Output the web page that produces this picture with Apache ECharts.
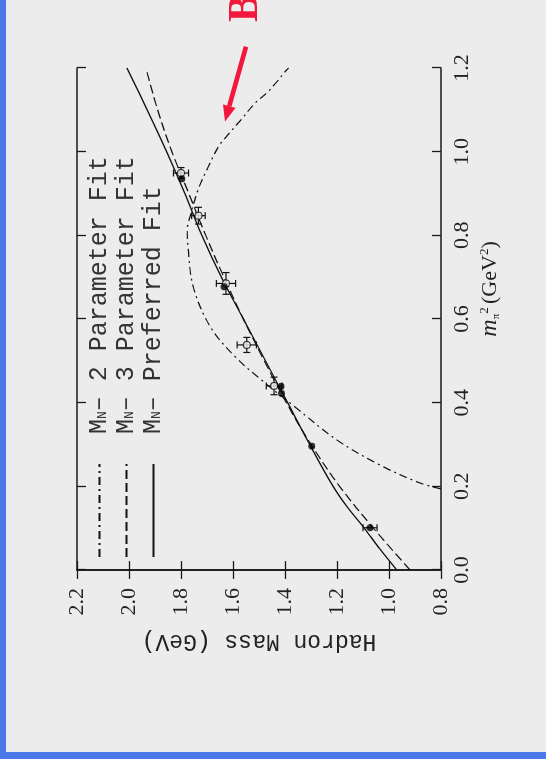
<!DOCTYPE html>
<html><head><meta charset="utf-8">
<script src="https://cdn.jsdelivr.net/npm/echarts@6/dist/echarts.min.js"></script>
<style>
html,body{margin:0;padding:0;width:546px;height:759px;overflow:hidden;background:#ececec;}
#blueL{position:absolute;left:0;top:0;width:6px;height:759px;background:#4a78e6;}
#blueB{position:absolute;left:0;top:752px;width:546px;height:7px;background:#4a78e6;}
#chart{position:absolute;left:0;top:0;width:759px;height:546px;transform-origin:0 0;transform:translate(0,759px) rotate(-90deg);}
</style></head><body>
<div id="chart"></div><div id="blueL"></div><div id="blueB"></div>
<script>
// ---- data (x = m_pi^2 in GeV^2, y = hadron mass in GeV) ----
const mpi2TickLabels = ['0.0','0.2','0.4','0.6','0.8','1.0','1.2'];
const massTickLabels = ['0.8','1.0','1.2','1.4','1.6','1.8','2.0','2.2'];

const legendNames = ['2 Parameter Fit','3 Parameter Fit','Preferred Fit'];

const fit2_mpi2 = [0.194,0.208,0.251,0.311,0.390,0.454,0.510,0.582,0.677,0.765,0.813,0.845,0.908,0.964,1.012,1.040,1.072,1.116,1.143,1.171,1.191,1.200];
const fit2_mass = [0.800,0.881,1.035,1.201,1.362,1.490,1.592,1.688,1.753,1.772,1.776,1.765,1.735,1.695,1.656,1.620,1.575,1.515,1.466,1.426,1.400,1.386];

const fit3_mpi2 = [0.0,0.1,0.2,0.3,0.4,0.5,0.6,0.7,0.8,0.9,1.0,1.1,1.2];
const fit3_mass = [0.919,1.060,1.190,1.300,1.395,1.480,1.560,1.635,1.705,1.770,1.835,1.890,1.935];

const pref_mpi2 = [0.0,0.05,0.1,0.15,0.2,0.3,0.4,0.5,0.6,0.7,0.8,0.9,1.0,1.1,1.2];
const pref_mass = [0.970,1.035,1.095,1.160,1.215,1.305,1.390,1.475,1.560,1.645,1.720,1.785,1.855,1.930,2.008];

const open_mpi2    = [0.949,0.847,0.685,0.538,0.440];
const open_mass    = [1.800,1.733,1.627,1.547,1.442];
const open_mpi2Err = [0.013,0.020,0.026,0.018,0.021];
const open_massErr = [0.029,0.026,0.037,0.037,0.030];

const filled_mpi2    = [0.935,0.677,0.439,0.422,0.296,0.101];
const filled_mass    = [1.797,1.635,1.415,1.413,1.297,1.073];
const filled_massErr = [0,0,0,0,0,0.027];

// arrow annotation (data coordinates)
const arrowTail = [1.251,1.550];
const arrowTip  = [1.072,1.631];

const zip = (a,b)=>a.map((v,i)=>[v,b[i]]);

const chart = echarts.init(document.getElementById('chart'), null, {renderer:'canvas'});

function errRender(params, api){
  const x=api.value(0), y=api.value(1), ex=api.value(2), ey=api.value(3);
  const st={stroke:'#111',lineWidth:1.2};
  const ch=[];
  const cap=3.5;
  if(ex>0){
    const a=api.coord([x-ex,y]), b=api.coord([x+ex,y]);
    ch.push({type:'line',shape:{x1:a[0],y1:a[1],x2:b[0],y2:b[1]},style:st});
    ch.push({type:'line',shape:{x1:a[0],y1:a[1]-cap,x2:a[0],y2:a[1]+cap},style:st});
    ch.push({type:'line',shape:{x1:b[0],y1:b[1]-cap,x2:b[0],y2:b[1]+cap},style:st});
  }
  if(ey>0){
    const a=api.coord([x,y-ey]), b=api.coord([x,y+ey]);
    ch.push({type:'line',shape:{x1:a[0],y1:a[1],x2:b[0],y2:b[1]},style:st});
    ch.push({type:'line',shape:{x1:a[0]-cap,y1:a[1],x2:a[0]+cap,y2:a[1]},style:st});
    ch.push({type:'line',shape:{x1:b[0]-cap,y1:b[1],x2:b[0]+cap,y2:b[1]},style:st});
  }
  return {type:'group',children:ch};
}

const axisLine={show:true,lineStyle:{color:'#1a1a1a',width:1.6}};
const axisTick={show:true,inside:true,length:9,lineStyle:{color:'#1a1a1a',width:1.3}};
const serif='"Liberation Serif","DejaVu Serif",serif';
const mono='"Liberation Mono","DejaVu Sans Mono",monospace';

const option={
  animation:false,
  backgroundColor:'transparent',
  grid:{left:189,right:68,top:77,bottom:105},
  legend:{
    show:true,
    orient:'vertical',left:201,top:87,padding:0,
    itemWidth:93,itemHeight:14,itemGap:2,
    data:legendNames,
    itemStyle:{opacity:0},
    textStyle:{fontFamily:mono,fontSize:25,color:'#333',padding:[0,0,0,25],lineHeight:20,
      rich:{
        m:{fontFamily:mono,fontSize:25,color:'#333',lineHeight:20},
        n:{fontFamily:mono,fontSize:13,color:'#333',lineHeight:2,verticalAlign:'bottom'},
        t:{fontFamily:mono,fontSize:25,color:'#333',lineHeight:20}
      }},
    formatter:(name)=>'{m|M}{n|N}{t|\u2013 '+name+'}'
  },
  xAxis:[{
    type:'value',min:0,max:1.2,interval:0.2,position:'bottom',
    axisLine,axisTick,splitLine:{show:false},
    axisLabel:{margin:10,fontFamily:serif,fontSize:22,color:'#222',
      formatter:(v)=>mpi2TickLabels[Math.round(v/0.2)]},
    name:'{i|m}{s|\u03c0}{p|2} {r|(GeV}{p|2}{r|)}',
    nameLocation:'middle',nameGap:33,
    nameTextStyle:{padding:[0,0,0,60],
      rich:{
        i:{fontFamily:serif,fontStyle:'italic',fontSize:24,color:'#222'},
        s:{fontFamily:serif,fontSize:11,color:'#222',verticalAlign:'bottom'},
        p:{fontFamily:serif,fontSize:13,color:'#222',verticalAlign:'top'},
        r:{fontFamily:serif,fontSize:22,color:'#222'}
      }}
  },{
    type:'value',min:0,max:1.2,interval:0.2,position:'top',
    axisLine,axisTick,axisLabel:{show:false},splitLine:{show:false}
  }],
  yAxis:[{
    type:'value',min:0.8,max:2.2,interval:0.2,position:'left',
    axisLine,axisTick,splitLine:{show:false},
    axisLabel:{margin:18,fontFamily:serif,fontSize:22,color:'#222',
      formatter:(v)=>massTickLabels[Math.round((v-0.8)/0.2)]},
    name:'Hadron Mass (GeV)',nameLocation:'middle',nameGap:60,nameRotate:90,
    nameTextStyle:{fontFamily:mono,fontSize:23,color:'#222'}
  },{
    type:'value',min:0.8,max:2.2,interval:0.2,position:'right',
    axisLine,axisTick,axisLabel:{show:false},splitLine:{show:false}
  }],
  series:[
    {name:legendNames[0],type:'line',smooth:0.35,symbol:'none',clip:true,
     data:zip(fit2_mpi2,fit2_mass),
     lineStyle:{color:'#111',width:1.2,type:[8,4,2,4]},itemStyle:{color:'#111'}},
    {name:legendNames[1],type:'line',smooth:0.35,symbol:'none',clip:true,
     data:zip(fit3_mpi2,fit3_mass),
     lineStyle:{color:'#111',width:1.2,type:[9,4]},itemStyle:{color:'#111'}},
    {name:legendNames[2],type:'line',smooth:0.35,symbol:'none',clip:true,
     data:zip(pref_mpi2,pref_mass),
     lineStyle:{color:'#111',width:1.3,type:'solid'},itemStyle:{color:'#111'}},
    {type:'custom',renderItem:errRender,
     data:open_mpi2.map((v,i)=>[v,open_mass[i],open_mpi2Err[i],open_massErr[i]]),z:5},
    {type:'custom',renderItem:errRender,
     data:filled_mpi2.map((v,i)=>[v,filled_mass[i],0,filled_massErr[i]]),z:5},
    {type:'scatter',symbol:'circle',symbolSize:7,z:6,
     data:zip(open_mpi2,open_mass),
     itemStyle:{color:'#f4f4f4',borderColor:'#111',borderWidth:1.2}},
    {type:'scatter',symbol:'circle',symbolSize:7,z:7,
     data:zip(filled_mpi2,filled_mass),
     itemStyle:{color:'#000'}}
  ]
};
chart.setOption(option);

// red annotation: arrow and "B"
const tail=chart.convertToPixel({gridIndex:0},arrowTail);
const tip=chart.convertToPixel({gridIndex:0},arrowTip);
const dx=tip[0]-tail[0], dy=tip[1]-tail[1], L=Math.hypot(dx,dy);
const ux=dx/L, uy=dy/L, px=-uy, py=ux;
const hl=16, hw=6.5;
const base=[tip[0]-ux*hl, tip[1]-uy*hl];
chart.setOption({graphic:[
  {type:'line',shape:{x1:tail[0],y1:tail[1],x2:base[0],y2:base[1]},style:{stroke:'#f2173b',lineWidth:4.5}},
  {type:'polygon',shape:{points:[tip,[base[0]+px*hw,base[1]+py*hw],[base[0]-px*hw,base[1]-py*hw]]},style:{fill:'#f2173b'}},
  {type:'text',x:737,y:246,style:{text:'B',font:'bold 42px "Liberation Serif",serif',fill:'#f2173b',textAlign:'left',textVerticalAlign:'middle'}}
]});
</script>
</body></html>
